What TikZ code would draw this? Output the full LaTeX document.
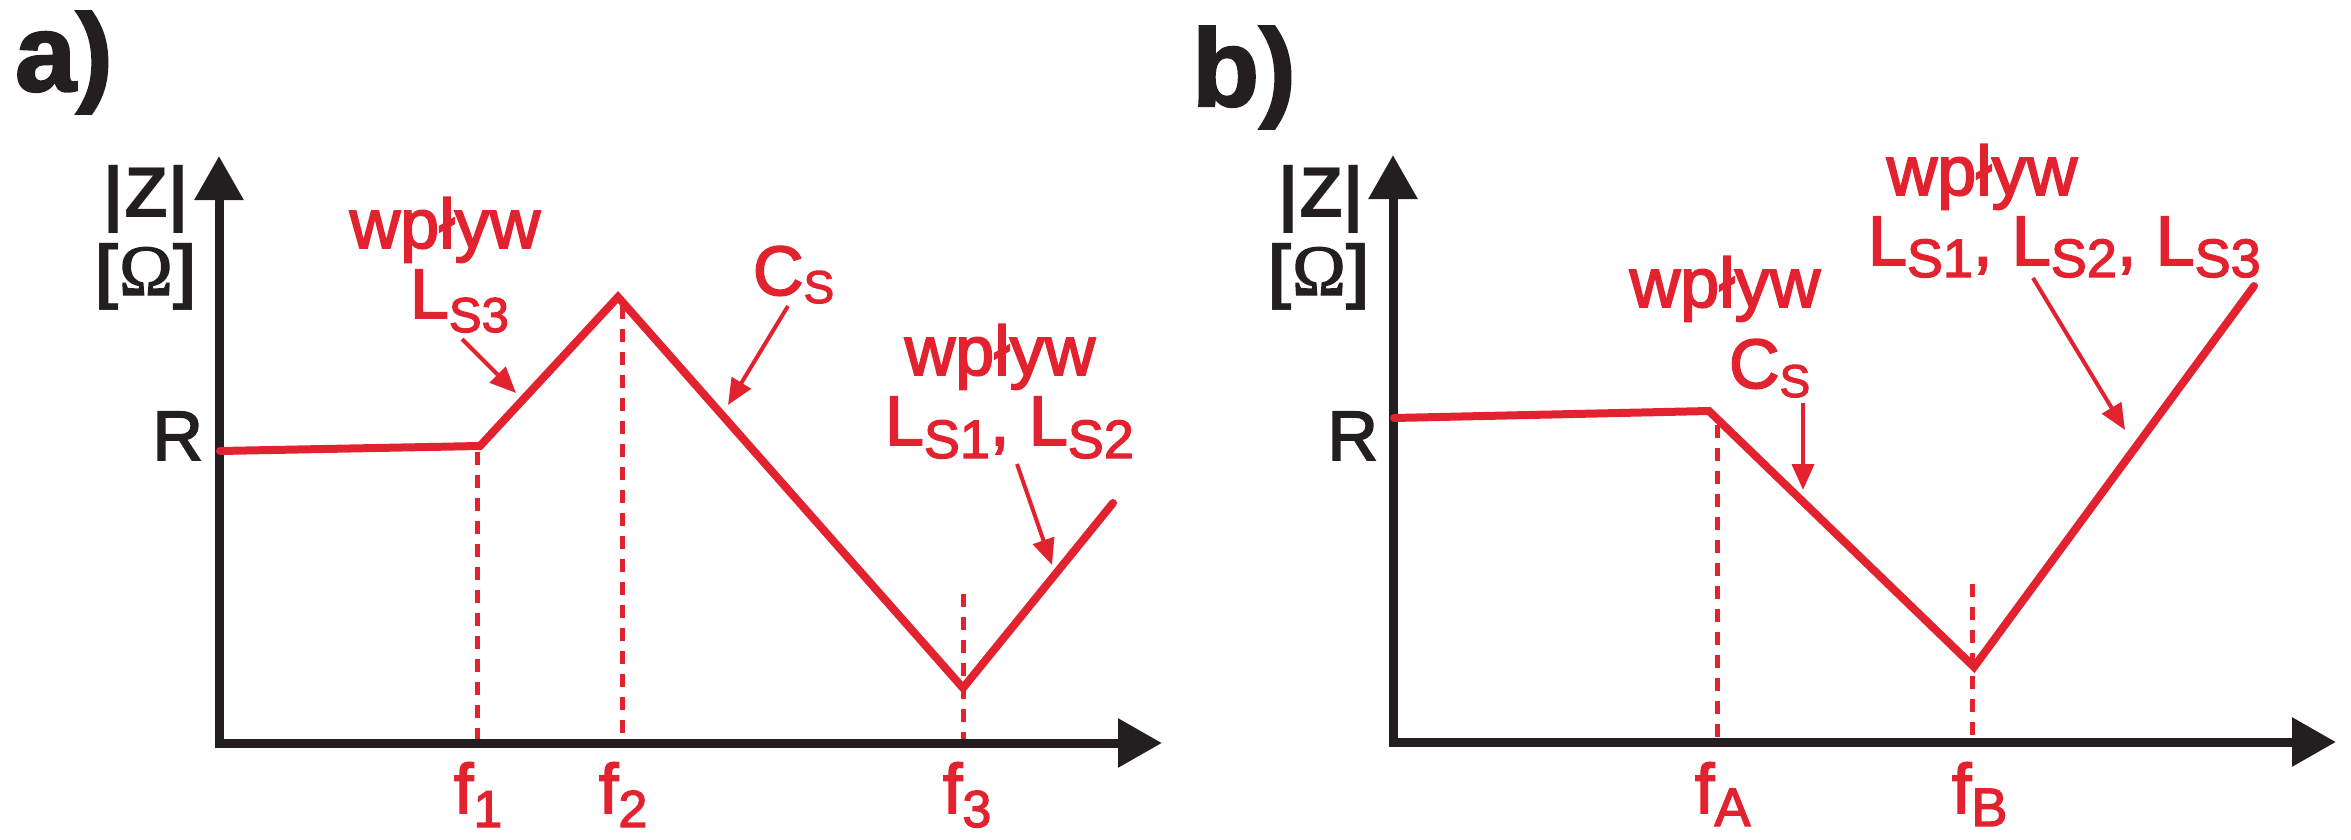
\documentclass[tikz,border=0pt]{standalone}
\usepackage{fontspec}
\setmainfont{Liberation Sans}
\newfontfamily\hvy{Liberation Sans}[FakeBold=2.5]
\newfontfamily\blk{Liberation Sans Bold}[FakeBold=2]
\newfontfamily\serifom{Liberation Serif}[FakeBold=2]
\usetikzlibrary{arrows.meta}
\definecolor{zred}{HTML}{E2232F}
\definecolor{zblk}{HTML}{231F20}
\newcommand{\mysub}[3]{\raisebox{-#1pt}{\fontsize{#2pt}{#2pt}\selectfont #3}}
\begin{document}
\begin{tikzpicture}[x=1pt,y=-1pt,
  every node/.style={inner sep=0pt,outer sep=0pt},
  lbl/.style={text=zred,font=\hvy\fontsize{70pt}{84pt}\selectfont},
  axlbl/.style={text=zblk,font=\hvy\fontsize{70pt}{84pt}\selectfont},
  boldlbl/.style={text=zblk,font=\bfseries\fontsize{72pt}{84pt}\selectfont},
  panel/.style={text=zblk,font=\blk\fontsize{110pt}{120pt}\selectfont},
  axis/.style={draw=zblk,line width=9pt,line join=miter,
    arrows={Triangle[length=44pt,width=47pt]-Triangle[length=44pt,width=47pt]}},
  curve/.style={draw=zred,line width=8pt,line cap=round,line join=miter},
  guide/.style={draw=zred,line width=5pt,dash pattern=on 13pt off 10pt},
  pointer/.style={draw=zred,line width=4pt,arrows={-Triangle[length=26pt,width=22pt]}},
]
\useasboundingbox (0,0) rectangle (2351,840);

% ================= panel a =================
\coordinate (aO) at (219,743);
\coordinate (aY) at (219,156);
\coordinate (aX) at (1162,743);
\coordinate (a0) at (220,451);
\coordinate (a1) at (480,446);
\coordinate (a2) at (618,297);
\coordinate (a3) at (963,688);
\coordinate (a4) at (1113,503);

\coordinate (g1t) at (477,452); \coordinate (g1b) at (477,739);
\coordinate (g2t) at (622,306); \coordinate (g2b) at (622,739);
\coordinate (g3t) at (963,594); \coordinate (g3b) at (963,739);
\draw[guide] (g1t) -- (g1b);
\draw[guide] (g2t) -- (g2b);
\draw[guide] (g3t) -- (g3b);

\draw[axis] (aY) -- (aO) -- (aX);
\draw[curve] (a0) -- (a1) -- (a2) -- (a3) -- (a4);

\node[panel,anchor=base west] (pa) at (15,91) {a)};
\node[boldlbl,anchor=base] (za) at (146,217) {|Z|};
\node[boldlbl,anchor=base] (oa) at (146,295) {[{\mdseries\serifom Ω}]};
\node[axlbl,anchor=base east] (ra) at (203,460) {R};

\node[lbl,anchor=base] (wa1) at (445,248) {wpływ};
\node[lbl,anchor=base west] (lsa3) at (410,318) {L\mysub{14}{49}{S3}};
\node[lbl,anchor=base west] (csa) at (753,295) {C\mysub{8}{46}{S}};
\node[lbl,anchor=base] (wa2) at (1000,375) {wpływ};
\node[lbl,anchor=base west] (lsa12) at (885,445) {L\mysub{13}{54}{S1}, L\mysub{13}{54}{S2}};

\node[lbl,anchor=base west] (f1) at (454,813) {f\mysub{14}{52}{1}};
\node[lbl,anchor=base west] (f2) at (599,813) {f\mysub{14}{52}{2}};
\node[lbl,anchor=base west] (f3) at (943,813) {f\mysub{14}{52}{3}};

\coordinate (pa1s) at (462,339); \coordinate (pa1e) at (516,393);
\coordinate (pa2s) at (788,306); \coordinate (pa2e) at (728,405);
\coordinate (pa3s) at (1017,464); \coordinate (pa3e) at (1052,565);
\draw[pointer] (pa1s) -- (pa1e);
\draw[pointer] (pa2s) -- (pa2e);
\draw[pointer] (pa3s) -- (pa3e);

% ================= panel b =================
\coordinate (bO) at (1393,742);
\coordinate (bY) at (1393,155);
\coordinate (bX) at (2336,742);
\coordinate (b0) at (1394,418);
\coordinate (b1) at (1709,411);
\coordinate (b2) at (1974,667);
\coordinate (b3) at (2254,286);

\coordinate (gat) at (1717,425); \coordinate (gab) at (1717,738);
\coordinate (gbt) at (1972,584); \coordinate (gbb) at (1972,738);
\draw[guide] (gat) -- (gab);
\draw[guide] (gbt) -- (gbb);

\draw[axis] (bY) -- (bO) -- (bX);
\draw[curve] (b0) -- (b1) -- (b2) -- (b3);

\node[panel,anchor=base west] (pb) at (1192,106) {b)};
\node[boldlbl,anchor=base] (zb) at (1321,217) {|Z|};
\node[boldlbl,anchor=base] (ob) at (1319,295) {[{\mdseries\serifom Ω}]};
\node[axlbl,anchor=base east] (rb) at (1378,460) {R};

\node[lbl,anchor=base] (wb1) at (1725,307) {wpływ};
\node[lbl,anchor=base west] (csb) at (1729,388) {C\mysub{9}{46}{S}};
\node[lbl,anchor=base] (wb2) at (1982,195) {wpływ};
\node[lbl,anchor=base west] (lsb) at (1868,265) {L\mysub{12}{54}{S1}, L\mysub{12}{54}{S2}, L\mysub{12}{54}{S3}};

\node[lbl,anchor=base west] (fa) at (1695,813) {f\mysub{13}{54}{A}};
\node[lbl,anchor=base west] (fb) at (1952,813) {f\mysub{13}{54}{B}};

\coordinate (pb1s) at (1803,403); \coordinate (pb1e) at (1803,490);
\coordinate (pb2s) at (2033,278); \coordinate (pb2e) at (2125,430);
\draw[pointer] (pb1s) -- (pb1e);
\draw[pointer] (pb2s) -- (pb2e);
\end{tikzpicture}
\end{document}
